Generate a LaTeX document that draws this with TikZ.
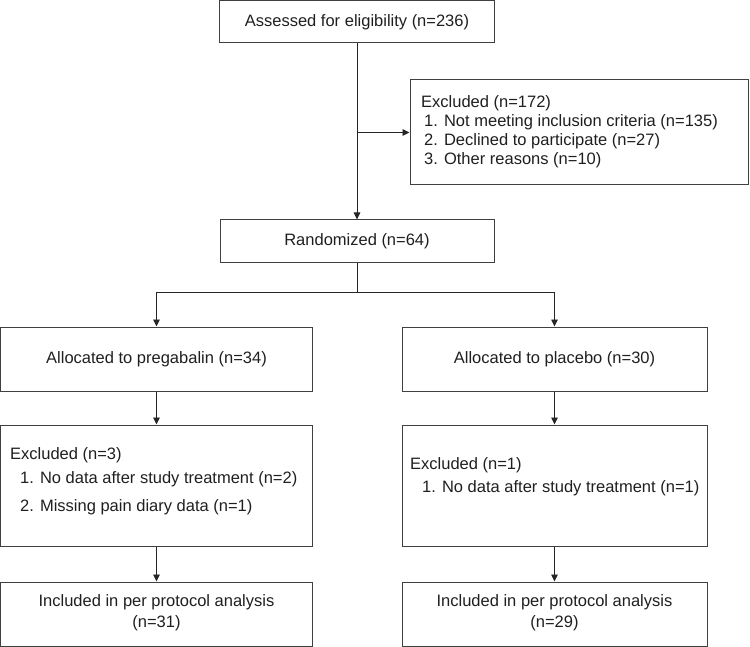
\documentclass[tikz,border=0pt]{standalone}
\usepackage{fontspec}
\setmainfont{Liberation Sans}
\usetikzlibrary{arrows.meta}
\begin{document}
\begin{tikzpicture}[x=1pt,y=-1pt,
  box/.style={draw=black!75,line width=1pt,rectangle,inner sep=0pt,anchor=center},
  txt/.style={font=\fontsize{16.5}{19}\selectfont,text=black!88,inner sep=0pt},
  conn/.style={draw=black!85,line width=0.9pt},
  arr/.style={conn,-{Triangle[length=7pt,width=6.5pt]}}]
\useasboundingbox (0,0) rectangle (750,647);
% boxes
\node[box,minimum width=275pt,minimum height=42pt] (top) at (357,22) {};
\node[box,minimum width=338pt,minimum height=105pt] (excl) at (579,132.5) {};
\node[box,minimum width=274pt,minimum height=43pt] (rand) at (357,241.5) {};
\node[box,minimum width=312pt,minimum height=64pt] (allocL) at (156.5,359) {};
\node[box,minimum width=305pt,minimum height=64pt] (allocR) at (554.5,359) {};
\node[box,minimum width=312pt,minimum height=121pt] (exL) at (156.5,485.5) {};
\node[box,minimum width=305pt,minimum height=121pt] (exR) at (554.5,485.5) {};
\node[box,minimum width=312pt,minimum height=64pt] (inL) at (156.5,614) {};
\node[box,minimum width=305pt,minimum height=64pt] (inR) at (554.5,614) {};
% texts
\node[txt] (ttop) at (top.center) {Assessed for eligibility (n=236)};
\node[txt,anchor=west,align=left] (texcl) at (421,132) {Excluded (n=172)\\\hspace*{3pt}1. Not meeting inclusion criteria (n=135)\\\hspace*{3pt}2. Declined to participate (n=27)\\\hspace*{3pt}3. Other reasons (n=10)};
\node[txt] (trand) at (rand.center) {Randomized (n=64)};
\node[txt] (tallocL) at (allocL.center) {Allocated to pregabalin (n=34)};
\node[txt] (tallocR) at (allocR.center) {Allocated to placebo (n=30)};
\node[txt,anchor=west,align=left,font=\fontsize{16.5}{24}\selectfont] (texL) at (10,481) {Excluded (n=3)\\\hspace*{10pt}1. No data after study treatment (n=2)\\[4pt]\hspace*{10pt}2. Missing pain diary data (n=1)};
\node[txt,anchor=west,align=left,font=\fontsize{16.5}{23}\selectfont] (texR) at (410,477) {Excluded (n=1)\\\hspace*{12pt}1. No data after study treatment (n=1)};
\node[txt,align=center,font=\fontsize{16.5}{21}\selectfont] (tinL) at (156.5,612.5) {Included in per protocol analysis\\(n=31)};
\node[txt,align=center,font=\fontsize{16.5}{21}\selectfont] (tinR) at (554.5,612.5) {Included in per protocol analysis\\(n=29)};
% connectors
\coordinate (j1) at (top.south |- excl.west);
\coordinate (split) at (357,292);
\coordinate (sL) at (allocL.north |- split);
\coordinate (sR) at (allocR.north |- split);
\draw[arr] (top.south) -- (rand.north);
\draw[arr] (j1) -- (excl.west);
\draw[conn] (rand.south) -- (split);
\draw[conn] (sL) -- (sR);
\draw[arr] (sL) -- (allocL.north);
\draw[arr] (sR) -- (allocR.north);
\draw[arr] (allocL.south) -- (exL.north);
\draw[arr] (allocR.south) -- (exR.north);
\draw[arr] (exL.south) -- (inL.north);
\draw[arr] (exR.south) -- (inR.north);
\end{tikzpicture}
\end{document}
